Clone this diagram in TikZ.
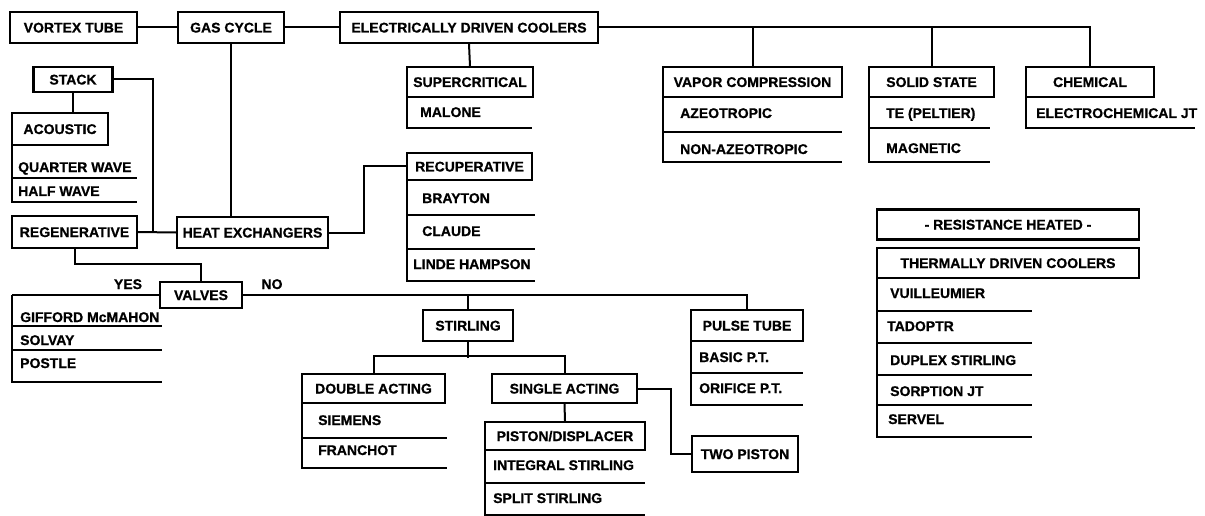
\documentclass[tikz,border=0pt]{standalone}
\usepackage{fontspec}
\setmainfont{Liberation Sans}
\newfontfamily\heavy{Liberation Sans Bold}[FakeBold=0.8]
\begin{document}
\begin{tikzpicture}[x=1pt,y=-1pt,
  lbl/.style={font=\fontsize{14}{16}\selectfont\heavy, text height=10pt, text depth=0pt, inner sep=0pt},
  box/.style={lbl, draw, line width=2.2pt},
  item/.style={lbl, anchor=west},
  wire/.style={line width=2pt},
  rule/.style={line width=2pt}]
\useasboundingbox (0,0) rectangle (1205,516);
% title boxes
\node[box, minimum width=127pt, minimum height=31pt] (vortex) at (73.5,27.5) {VORTEX TUBE};
\node[box, minimum width=106pt, minimum height=31pt] (gas) at (231,27.5) {GAS CYCLE};
\node[box, minimum width=258pt, minimum height=31pt] (elec) at (469,27.5) {ELECTRICALLY DRIVEN COOLERS};
\node[box, minimum width=79pt, minimum height=25pt] (stack) at (73,79.5) {STACK};
\node[box, minimum width=96pt, minimum height=32pt] (acoustic) at (60,129) {ACOUSTIC};
\node[box, minimum width=125pt, minimum height=32pt] (regen) at (74.5,232) {REGENERATIVE};
\node[box, minimum width=151pt, minimum height=31pt] (heatx) at (252.5,232.5) {HEAT EXCHANGERS};
\node[box, minimum width=126pt, minimum height=30pt] (super) at (470,82) {SUPERCRITICAL};
\node[box, minimum width=125pt, minimum height=27pt] (recup) at (469.5,166.5) {RECUPERATIVE};
\node[box, minimum width=179pt, minimum height=30pt] (vapor) at (752.5,82) {VAPOR COMPRESSION};
\node[box, minimum width=125pt, minimum height=30pt] (solid) at (931.5,82) {SOLID STATE};
\node[box, minimum width=128pt, minimum height=30pt] (chem) at (1090,82) {CHEMICAL};
\node[box, minimum width=262pt, minimum height=30pt] (resist) at (1008,224.5) {- RESISTANCE HEATED -};
\node[box, minimum width=262pt, minimum height=30pt] (thermal) at (1008,263) {THERMALLY DRIVEN COOLERS};
\node[box, minimum width=82pt, minimum height=26pt] (valves) at (201,295) {VALVES};
\node[box, minimum width=90pt, minimum height=31pt] (stirling) at (468,325.5) {STIRLING};
\node[box, minimum width=112pt, minimum height=31pt] (pulse) at (747,325.5) {PULSE TUBE};
\node[box, minimum width=143pt, minimum height=29pt] (double) at (373.5,388.5) {DOUBLE ACTING};
\node[box, minimum width=145pt, minimum height=29pt] (single) at (564.5,388.5) {SINGLE ACTING};
\node[box, minimum width=106pt, minimum height=36pt] (twopiston) at (745,454) {TWO PISTON};
\node[box, minimum width=160pt, minimum height=28pt] (piston) at (565,436) {PISTON/DISPLACER};
% labels
\node[lbl] (yes) at (128,284) {YES};
\node[lbl] (no) at (272,284) {NO};
% list items
\node[item] (qw) at (18,167) {QUARTER WAVE};
\node[item] (hw) at (18,191) {HALF WAVE};
\node[item] (malone) at (420,112) {MALONE};
\node[item] (brayton) at (422,198) {BRAYTON};
\node[item] (claude) at (422,231) {CLAUDE};
\node[item] (linde) at (413,264) {LINDE HAMPSON};
\node[item] (azeo) at (680,113) {AZEOTROPIC};
\node[item] (nonazeo) at (680,149) {NON-AZEOTROPIC};
\node[item] (te) at (886,113) {TE (PELTIER)};
\node[item] (magnetic) at (886,148) {MAGNETIC};
\node[item] (echem) at (1036,113) {ELECTROCHEMICAL JT};
\node[item] (vuil) at (890,293) {VUILLEUMIER};
\node[item] (tado) at (887,326) {TADOPTR};
\node[item] (duplex) at (890,360) {DUPLEX STIRLING};
\node[item] (sorption) at (890,391) {SORPTION JT};
\node[item] (servel) at (888,419) {SERVEL};
\node[item] (gifford) at (20,317) {GIFFORD McMAHON};
\node[item] (solvay) at (20,340) {SOLVAY};
\node[item] (postle) at (20,363) {POSTLE};
\node[item] (siemens) at (318,420) {SIEMENS};
\node[item] (franchot) at (318,450) {FRANCHOT};
\node[item] (integral) at (493,465) {INTEGRAL STIRLING};
\node[item] (split) at (493,498) {SPLIT STIRLING};
\node[item] (basic) at (699,357) {BASIC P.T.};
\node[item] (orifice) at (699,388) {ORIFICE P.T.};
% list frames
\draw[rule] (12,145) -- (12,202) -- (137,202);
\draw[rule] (12,178) -- (137,178);
\draw[rule] (407,97) -- (407,128) -- (532,128);
\draw[rule] (407,180) -- (407,281) -- (535,281);
\draw[rule] (407,215) -- (535,215);
\draw[rule] (407,249) -- (535,249);
\draw[rule] (663,97) -- (663,162) -- (842,162);
\draw[rule] (663,132) -- (842,132);
\draw[rule] (869,97) -- (869,162) -- (990,162);
\draw[rule] (869,128) -- (990,128);
\draw[rule] (1026,97) -- (1026,128) -- (1195,128);
\draw[rule] (877,278) -- (877,437) -- (1032,437);
\draw[rule] (877,311) -- (1032,311);
\draw[rule] (877,343) -- (1032,343);
\draw[rule] (877,375) -- (1032,375);
\draw[rule] (877,405) -- (1032,405);
\coordinate (ytop) at (12,295);
\draw[rule] (ytop) -- (12,382) -- (162,382);
\draw[rule] (12,326) -- (162,326);
\draw[rule] (12,350) -- (162,350);
\draw[rule] (302,403) -- (302,468) -- (447,468);
\draw[rule] (302,438) -- (447,438);
\draw[rule] (485,450) -- (485,515) -- (645,515);
\draw[rule] (485,483) -- (645,483);
\draw[rule] (691,341) -- (691,405) -- (803,405);
\draw[rule] (691,373) -- (803,373);
% connectors
\draw[wire] (vortex.east) -- (gas.west);
\draw[wire] (gas.east) -- (elec.west);
\draw[wire] (gas.south) -- (gas.south |- heatx.north);
\draw[wire] (elec.east) -| (chem.north);
\draw[wire] (vapor.north) -- (vapor.north |- elec.east);
\draw[wire] (solid.north) -- (solid.north |- elec.east);
\draw[wire] (elec.south) -- (super.north);
\coordinate (sj) at (153,232);
\draw[wire] (stack.east) -| (sj);
\draw[wire] (stack.south) -- (stack.south |- acoustic.north);
\draw[wire] (regen.east) -- (heatx.west);
\draw[wire] (heatx.east) -- ++(35,0) |- (recup.west);
\draw[wire] (regen.south) -- ++(0,15) -| (valves.north);
\draw[wire] (valves.west) -- (ytop);
\draw[wire] (valves.east) -| (pulse.north);
\draw[wire] (stirling.north) -- (stirling.north |- valves.east);
\draw[wire] (stirling.south) -- ++(0,16);
\draw[wire] (double.north) -- ++(0,-17) -| (single.north);
\draw[wire] (single.east) -- ++(33,0) |- (twopiston.west);
\draw[wire] (single.south) -- (piston.north);
\end{tikzpicture}
\end{document}
